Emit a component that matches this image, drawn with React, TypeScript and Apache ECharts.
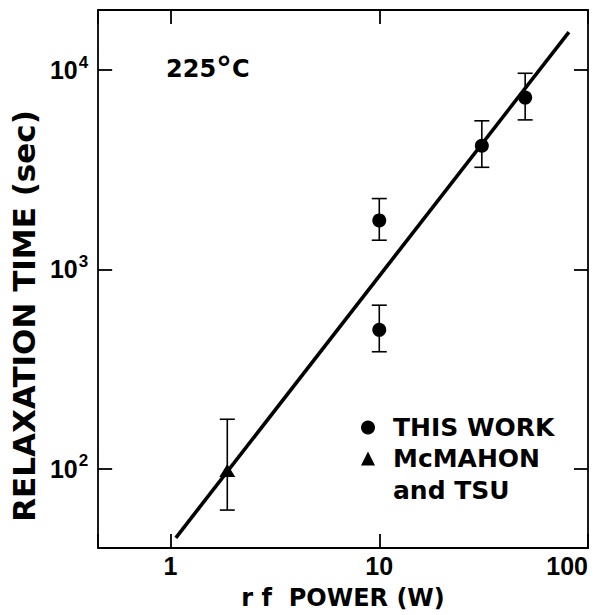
import React, { useEffect, useRef } from "react";
import * as echarts from "echarts";

// Axis ranges
const X_MIN = 0.45;
const X_MAX = 100;
const Y_MIN = 40;
const Y_MAX = 20000;

// THIS WORK
const thisWorkX = [10, 10, 31, 50];
const thisWorkY = [1760, 497, 4170, 7270];
const thisWorkLow = [1400, 386, 3250, 5620];
const thisWorkHigh = [2265, 661, 5560, 9630];

// McMAHON and TSU
const mcmX = [1.87];
const mcmY = [98];
const mcmLow = [62];
const mcmHigh = [177];

// Fitted line
const fitX = [1.06, 81];
const fitY = [45, 15500];

const TITLE_FONT = "'DejaVu Sans', sans-serif";
const TICK_FONT = "'Liberation Sans', Arial, sans-serif";

const isPow10 = (v: number) => {
  const l = Math.log10(v);
  return Math.abs(l - Math.round(l)) < 1e-6;
};

export default function App() {
  const ref = useRef<HTMLDivElement>(null);
  useEffect(() => {
    if (!ref.current) return;
    const chart = echarts.init(ref.current, undefined, { renderer: "svg" });

    const errData = [
      ...thisWorkX.map((x, i) => [x, thisWorkLow[i], thisWorkHigh[i]]),
      ...mcmX.map((x, i) => [x, mcmLow[i], mcmHigh[i]]),
    ];

    const axisLine = { show: true, lineStyle: { color: "#000", width: 1.8 } };
    const axisTick = { show: true, inside: true, length: 14, lineStyle: { color: "#000", width: 1.8 } };

    const option: any = {
      animation: false,
      backgroundColor: "#fff",
      grid: { left: 98, right: 12, top: 10, bottom: 65, show: false },
      xAxis: [
        {
          type: "log",
          logBase: 10,
          min: X_MIN,
          max: X_MAX,
          position: "bottom",
          axisLine,
          axisTick,
          splitLine: { show: false },
          minorTick: { show: false },
          axisLabel: {
            color: "#000",
            fontFamily: TICK_FONT,
            fontWeight: "bold",
            fontSize: 25,
            margin: 5,
            alignMaxLabel: "right",
            formatter: (v: number) => (isPow10(v) ? String(Math.round(v)) : ""),
          },
          name: "r f  POWER (W)",
          nameLocation: "middle",
          nameGap: 38,
          nameTextStyle: {
            color: "#000",
            fontFamily: TITLE_FONT,
            fontWeight: "bold",
            fontSize: 24,
          },
        },
        {
          type: "log",
          logBase: 10,
          min: X_MIN,
          max: X_MAX,
          position: "top",
          axisLine,
          axisTick,
          splitLine: { show: false },
          axisLabel: { show: false },
        },
      ],
      yAxis: [
        {
          type: "log",
          logBase: 10,
          min: Y_MIN,
          max: Y_MAX,
          position: "left",
          axisLine,
          axisTick,
          splitLine: { show: false },
          axisLabel: {
            color: "#000",
            margin: 10,
            formatter: (v: number) =>
              isPow10(v) ? `{b|10}{s|${Math.round(Math.log10(v))}}` : "",
            rich: {
              b: { fontFamily: TICK_FONT, fontWeight: "bold", fontSize: 25, color: "#000" },
              s: {
                fontFamily: TICK_FONT,
                fontWeight: "bold",
                fontSize: 17,
                color: "#000",
                padding: [0, 0, 16, 1],
              },
            },
          },
          name: "RELAXATION TIME (sec)",
          nameLocation: "middle",
          nameGap: 55,
          nameRotate: 90,
          nameTextStyle: {
            color: "#000",
            fontFamily: TITLE_FONT,
            fontWeight: "bold",
            fontSize: 31,
            padding: [0, 74, 0, 0],
          },
        },
        {
          type: "log",
          logBase: 10,
          min: Y_MIN,
          max: Y_MAX,
          position: "right",
          axisLine,
          axisTick,
          splitLine: { show: false },
          axisLabel: { show: false },
        },
      ],
      legend: {
        orient: "vertical",
        left: 361,
        top: 415,
        padding: 0,
        itemGap: 6,
        itemWidth: 14,
        itemHeight: 14,
        data: ["THIS WORK", "McMAHON and TSU"],
        formatter: (name: string) => (name === "McMAHON and TSU" ? "McMAHON" : name),
        itemStyle: { opacity: 1 },
        textStyle: {
          color: "#000",
          fontFamily: TITLE_FONT,
          fontWeight: "bold",
          fontSize: 25,
          lineHeight: 25,
          padding: [0, 0, 0, 13],
        },
      },
      graphic: [
        {
          type: "text",
          left: 393,
          top: 478,
          style: {
            text: "and TSU",
            fill: "#000",
            font: `bold 25px ${TITLE_FONT}`,
          },
        },
        {
          type: "text",
          x: 166,
          y: 69,
          style: {
            text: "{a|225}{d|°}{a|C}",
            verticalAlign: "middle",
            rich: {
              a: { fontFamily: TITLE_FONT, fontWeight: "bold", fontSize: 24, fill: "#000" },
              d: { fontFamily: TITLE_FONT, fontWeight: "bold", fontSize: 32, fill: "#000" },
            },
          },
        },
      ],
      series: [
        {
          type: "line",
          name: "fit",
          data: fitX.map((x, i) => [x, fitY[i]]),
          showSymbol: false,
          symbol: "none",
          lineStyle: { color: "#000", width: 3.6 },
          z: 2,
          silent: true,
        },
        {
          type: "custom",
          name: "errors",
          data: errData,
          encode: { x: 0, y: [1, 2] },
          z: 3,
          renderItem: (params: any, api: any) => {
            const x = api.value(0);
            const lo = api.coord([x, api.value(1)]);
            const hi = api.coord([x, api.value(2)]);
            const w = 7.5;
            const style = { stroke: "#000", lineWidth: 1.6 };
            return {
              type: "group",
              children: [
                { type: "line", shape: { x1: lo[0], y1: lo[1], x2: hi[0], y2: hi[1] }, style },
                { type: "line", shape: { x1: lo[0] - w, y1: lo[1], x2: lo[0] + w, y2: lo[1] }, style },
                { type: "line", shape: { x1: hi[0] - w, y1: hi[1], x2: hi[0] + w, y2: hi[1] }, style },
              ],
            };
          },
        },
        {
          type: "scatter",
          name: "THIS WORK",
          data: thisWorkX.map((x, i) => [x, thisWorkY[i]]),
          symbol: "circle",
          symbolSize: 14,
          itemStyle: { color: "#000", opacity: 1 },
          z: 4,
        },
        {
          type: "scatter",
          name: "McMAHON and TSU",
          data: mcmX.map((x, i) => [x, mcmY[i]]),
          symbol: "triangle",
          symbolSize: [16, 13],
          itemStyle: { color: "#000", opacity: 1 },
          z: 4,
        },
      ],
    };

    chart.setOption(option);
    return () => chart.dispose();
  }, []);

  return (
    <div
      ref={ref}
      style={{ position: "absolute", left: 0, top: 0, width: 600, height: 615, background: "#fff" }}
    />
  );
}
